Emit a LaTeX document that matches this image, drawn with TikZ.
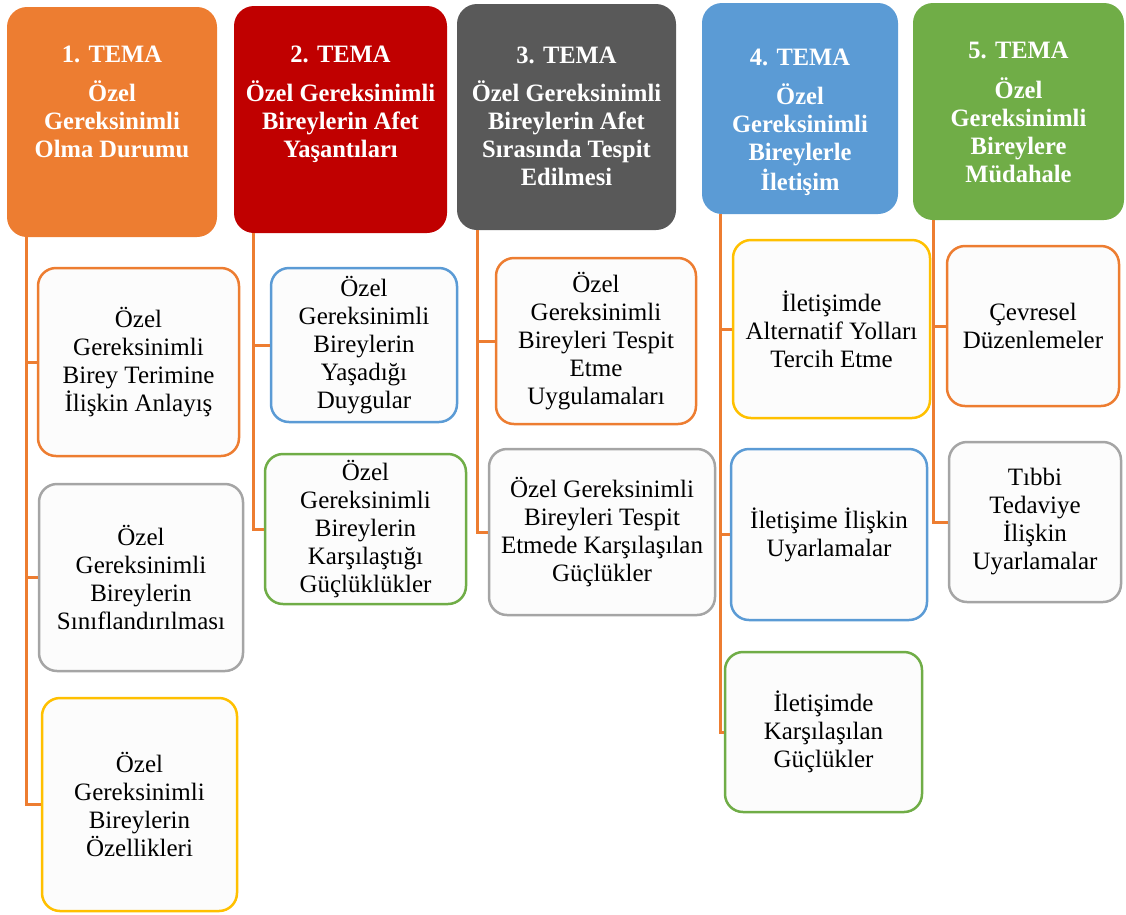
\documentclass[tikz,border=0pt]{standalone}
\usepackage{fontspec}
\setmainfont{Liberation Serif}
\newfontfamily\hdrfont{Liberation Serif}[FakeStretch=0.98]
\definecolor{cOrange}{HTML}{ED7D31}
\definecolor{cRed}{HTML}{C00000}
\definecolor{cDark}{HTML}{595959}
\definecolor{cBlue}{HTML}{5B9BD5}
\definecolor{cGreen}{HTML}{70AD47}
\definecolor{cGray}{HTML}{A5A5A5}
\definecolor{cYellow}{HTML}{FFC000}
\definecolor{cFill}{HTML}{FCFCFC}
\tikzset{
  hdr/.style={rectangle, rounded corners=20pt, inner sep=0pt, draw=none},
  hdrtxt/.style={anchor=base, inner sep=0pt, text=white, font=\hdrfont\fontsize{25}{28}\selectfont\bfseries},
  child/.style={rectangle, rounded corners=18pt, line width=2.5pt, fill=cFill, align=center, inner sep=2pt, font=\fontsize{25}{28}\selectfont},
  conn/.style={draw=cOrange, line width=3pt}
}
\begin{document}
\begin{tikzpicture}[x=1pt,y=-1pt]
\useasboundingbox (0,0) rectangle (1126,914);
% headers
\node[hdr, fill=cOrange, minimum width=210pt, minimum height=230pt] (h1) at (112,122) {};
\node[hdr, fill=cRed, minimum width=213pt, minimum height=227pt] (h2) at (340.5,119.5) {};
\node[hdr, fill=cDark, minimum width=219pt, minimum height=226pt] (h3) at (566.5,117) {};
\node[hdr, fill=cBlue, minimum width=196pt, minimum height=211pt] (h4) at (800,108.5) {};
\node[hdr, fill=cGreen, minimum width=211pt, minimum height=217pt] (h5) at (1018.5,111.5) {};
\node[hdrtxt] (h1t) at (112,62) {\begin{tabular}[t]{@{}c@{}}1. TEMA\\[10pt]Özel\\Gereksinimli\\Olma Durumu\end{tabular}};
\node[hdrtxt] (h2t) at (340.5,62) {\begin{tabular}[t]{@{}c@{}}2. TEMA\\[10pt]Özel Gereksinimli\\Bireylerin Afet\\Yaşantıları\end{tabular}};
\node[hdrtxt] (h3t) at (566.5,63) {\begin{tabular}[t]{@{}c@{}}3. TEMA\\[9pt]Özel Gereksinimli\\Bireylerin Afet\\Sırasında Tespit\\Edilmesi\end{tabular}};
\node[hdrtxt] (h4t) at (800,65) {\begin{tabular}[t]{@{}c@{}}4. TEMA\\[10pt]Özel\\Gereksinimli\\Bireylerle\\İletişim\end{tabular}};
\node[hdrtxt] (h5t) at (1018.5,58) {\begin{tabular}[t]{@{}c@{}}5. TEMA\\[11pt]Özel\\Gereksinimli\\Bireylere\\Müdahale\end{tabular}};
% children
\node[child, draw=cOrange, minimum width=201pt, minimum height=188pt] (a) at (138.5,362) {Özel\\Gereksinimli\\Birey Terimine\\İlişkin Anlayış};
\node[child, draw=cGray, minimum width=204pt, minimum height=187pt] (b) at (141,577.5) {Özel\\Gereksinimli\\Bireylerin\\Sınıflandırılması};
\node[child, draw=cYellow, minimum width=195pt, minimum height=213pt] (c) at (139.5,804.5) {Özel\\Gereksinimli\\Bireylerin\\Özellikleri};
\node[child, draw=cBlue, minimum width=186pt, minimum height=154pt] (d) at (364,345) {Özel\\Gereksinimli\\Bireylerin\\Yaşadığı\\Duygular};
\node[child, draw=cGreen, minimum width=201pt, minimum height=150pt] (e) at (365.5,529) {Özel\\Gereksinimli\\Bireylerin\\Karşılaştığı\\Güçlüklükler};
\node[child, draw=cOrange, minimum width=200pt, minimum height=166pt] (f) at (596,341) {Özel\\Gereksinimli\\Bireyleri Tespit\\Etme\\Uygulamaları};
\node[child, draw=cGray, minimum width=226pt, minimum height=166pt] (g) at (602,532) {Özel Gereksinimli\\Bireyleri Tespit\\Etmede Karşılaşılan\\Güçlükler};
\node[child, draw=cYellow, minimum width=197pt, minimum height=178pt] (hh) at (831.5,329) {İletişimde\\Alternatif Yolları\\Tercih Etme};
\node[child, draw=cBlue, minimum width=196pt, minimum height=171pt] (ii) at (829,534.5) {İletişime İlişkin\\Uyarlamalar};
\node[child, draw=cGreen, minimum width=197pt, minimum height=160pt] (jj) at (823.5,732) {İletişimde\\Karşılaşılan\\Güçlükler};
\node[child, draw=cOrange, minimum width=172pt, minimum height=160pt] (k) at (1033,326) {Çevresel\\Düzenlemeler};
\node[child, draw=cGray, minimum width=172pt, minimum height=160pt] (l) at (1035,522) {Tıbbi\\Tedaviye\\İlişkin\\Uyarlamalar};
% connectors
\coordinate (s1) at ([xshift=20pt]h1.south west);
\coordinate (s2) at ([xshift=20pt]h2.south west);
\coordinate (s3) at ([xshift=21pt]h3.south west);
\coordinate (s4) at ([xshift=19pt]h4.south west);
\coordinate (s5) at ([xshift=21pt]h5.south west);
\draw[conn] (s1) |- (a.west);
\draw[conn] (s1) |- (b.west);
\draw[conn] (s1) |- (c.west);
\draw[conn] (s2) |- (d.west);
\draw[conn] (s2) |- (e.west);
\draw[conn] (s3) |- (f.west);
\draw[conn] (s3) |- (g.west);
\draw[conn] (s4) |- (hh.west);
\draw[conn] (s4) |- (ii.west);
\draw[conn] (s4) |- (jj.west);
\draw[conn] (s5) |- (k.west);
\draw[conn] (s5) |- (l.west);
\end{tikzpicture}
\end{document}
